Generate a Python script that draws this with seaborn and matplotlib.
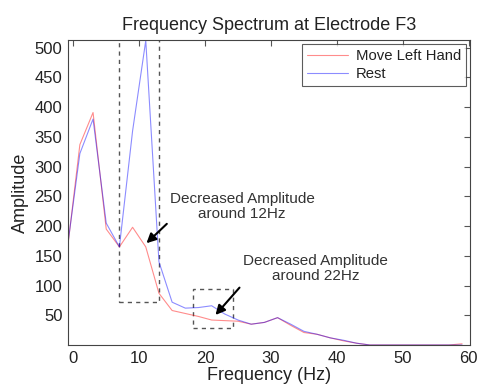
import matplotlib
matplotlib.use("Agg")
import matplotlib.pyplot as plt
import seaborn as sns
import pandas as pd
from matplotlib.patches import Rectangle

freq = [-1, 1, 3, 5, 7, 9, 11, 13, 15, 17, 19, 21, 23, 25, 27, 29, 31, 33, 35,
        37, 39, 41, 43, 45, 47, 49, 51, 53, 55, 57, 59]
move_left = [150, 337, 391, 195, 165, 198, 165, 87, 58, 53, 48, 42, 41, 40, 35, 38,
             46, 33, 21, 18, 12, 7, 3, 0, 0, 0, 0, 0, 0, 0, 2]
rest = [155, 322, 380, 205, 165, 360, 512, 140, 72, 62, 63, 66, 52, 42, 35, 38,
        46, 35, 23, 18, 12, 8, 3, 0, 0, 0, 0, 0, 0, 0, 0]
series_names = ["Move Left Hand", "Rest"]
xticks = [0, 10, 20, 30, 40, 50, 60]
yticks = [50, 100, 150, 200, 250, 300, 350, 400, 450, 500]

df = pd.DataFrame({
    "Frequency": freq * 2,
    "Amplitude": move_left + rest,
    "Condition": [series_names[0]] * len(freq) + [series_names[1]] * len(freq),
})

sns.set_style("white")
plt.rcParams["font.family"] = ["Liberation Sans", "DejaVu Sans"]

fig = plt.figure(figsize=(4.79, 3.86), dpi=100)
ax = fig.add_axes([68 / 479, 1 - 345 / 386, (470 - 68) / 479, (345 - 40) / 386])

sns.lineplot(data=df, x="Frequency", y="Amplitude", hue="Condition",
             palette={series_names[0]: "#ff0000", series_names[1]: "#0000ff"},
             linewidth=0.8, alpha=0.45, ax=ax, legend=True)

ax.set_xlim(-0.8, 60.2)
ax.set_ylim(0, 513)
ax.set_xticks(xticks)
ax.set_yticks(yticks)
ax.tick_params(direction="in", top=True, right=True, length=4, width=0.8,
               labelsize=12, color="#555555", pad=4, labelcolor="#222222")
for s in ax.spines.values():
    s.set_visible(True)
    s.set_color("#444444")
    s.set_linewidth(0.8)

ax.set_title("Frequency Spectrum at Electrode F3", fontsize=13, pad=7,
             color="#222222")
ax.set_xlabel("Frequency (Hz)", fontsize=13, labelpad=1, color="#222222")
ax.set_ylabel("Amplitude", fontsize=13, labelpad=4, color="#222222")

# dashed highlight boxes
ax.add_patch(Rectangle((7, 72), 6, 460, fill=False, ls=(0, (3, 3)),
                       lw=1.0, ec="#555555", clip_on=True))
ax.add_patch(Rectangle((18.2, 28), 6.1, 67, fill=False, ls=(0, (3, 3)),
                       lw=1.0, ec="#555555"))

ax.annotate("", xy=(10.8, 168), xytext=(14.5, 207),
            arrowprops=dict(arrowstyle="-|>", color="black", lw=1.5,
                            mutation_scale=14))
ax.annotate("", xy=(21.3, 47), xytext=(25.5, 100),
            arrowprops=dict(arrowstyle="-|>", color="black", lw=1.5,
                            mutation_scale=14))
ax.text(25.6, 233, "Decreased Amplitude\naround 12Hz", ha="center", va="center",
        fontsize=11, color="#333333", linespacing=1.1)
ax.text(36.8, 128, "Decreased Amplitude\naround 22Hz", ha="center", va="center",
        fontsize=11, color="#333333", linespacing=1.1)

leg = ax.legend(loc="upper right", fontsize=10.7, frameon=True, fancybox=False,
                edgecolor="#333333", borderpad=0.3, handlelength=2.8,
                labelspacing=0.3, borderaxespad=0.3, handletextpad=0.5)
leg.get_frame().set_linewidth(0.8)
for t in leg.get_texts():
    t.set_color("#222222")

fig.savefig("out.png", dpi=100)
